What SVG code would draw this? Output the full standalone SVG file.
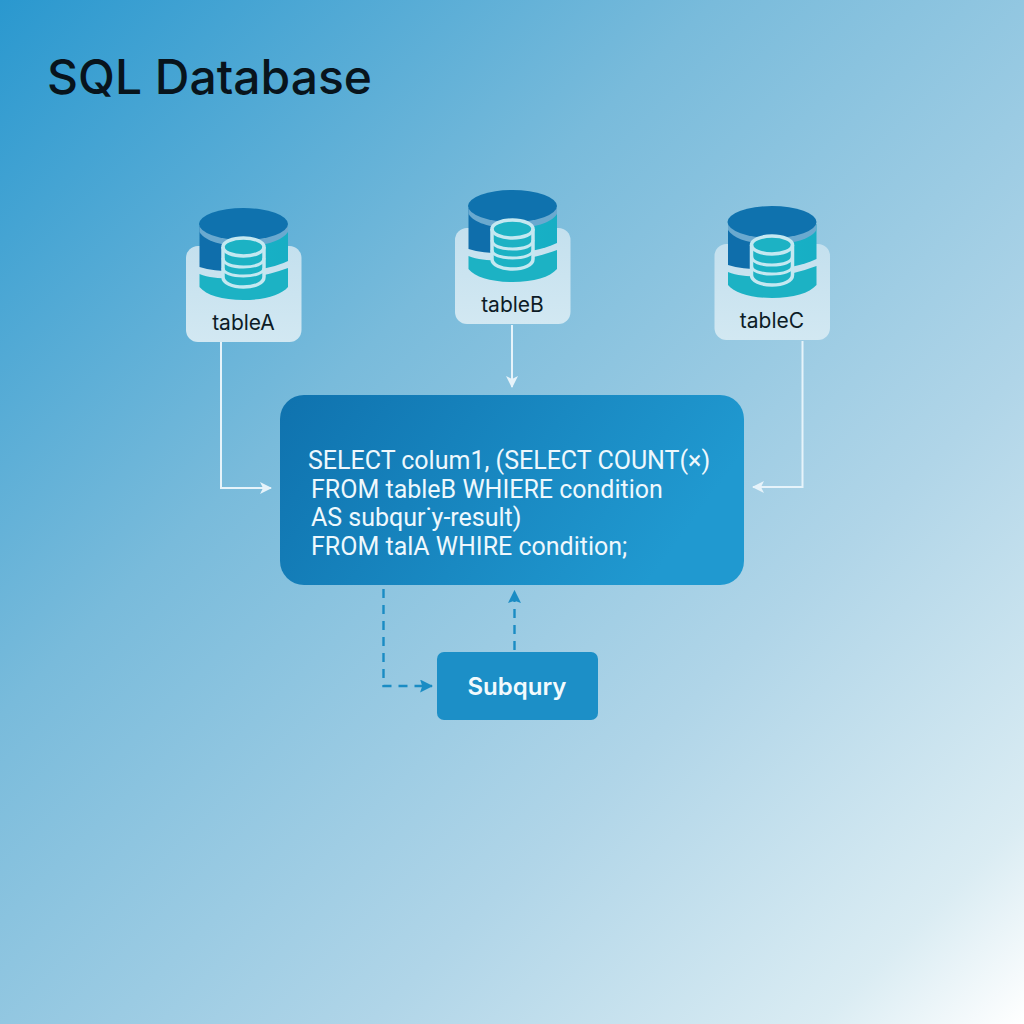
<svg xmlns="http://www.w3.org/2000/svg" width="1024" height="1024" viewBox="0 0 1024 1024">
<style>
.lbl{font-family:"Inter","Liberation Sans",sans-serif;font-size:21px;fill:#0d1c26;text-anchor:middle}
.code{font-family:"Roboto","Liberation Sans",sans-serif;font-size:25px;fill:#eef8fd}
.w{fill:none;stroke:#e6f3fa;stroke-width:2}
.d{fill:none;stroke:#1a8cc4;stroke-width:2.4;stroke-dasharray:9 7}
.ic{fill:none;stroke:#c4e8f1;stroke-width:3.5}
</style>
<defs>
<linearGradient id="bg" x1="0" y1="0" x2="1" y2="1">
<stop offset="0" stop-color="#2a98cf"/><stop offset=".35" stop-color="#79bbdb"/><stop offset=".68" stop-color="#b0d5e8"/><stop offset=".9" stop-color="#daecf3"/><stop offset="1" stop-color="#ffffff"/>
</linearGradient>
<linearGradient id="main" x1="0" y1="0" x2="1" y2=".3">
<stop offset="0" stop-color="#0f72ae"/><stop offset="1" stop-color="#2099d0"/>
</linearGradient>
<linearGradient id="card" x1="0" y1="0" x2="0" y2="1">
<stop offset="0" stop-color="#c4e0ee"/><stop offset="1" stop-color="#d2e8f2"/>
</linearGradient>
<linearGradient id="up" x1="0" y1="0" x2="1" y2="0">
<stop offset="0" stop-color="#0f6eab"/><stop offset=".45" stop-color="#0f6eab"/><stop offset=".55" stop-color="#17b2c6"/><stop offset="1" stop-color="#17aec4"/>
</linearGradient>
<marker id="aw" viewBox="0 0 12 12" refX="11" refY="6" markerWidth="12" markerHeight="12" markerUnits="userSpaceOnUse" orient="auto"><path d="M0 0L12 6L0 12L3 6Z" fill="#e6f3fa"/></marker>
<marker id="ab" viewBox="0 0 12 12" refX="11" refY="6" markerWidth="13" markerHeight="13" markerUnits="userSpaceOnUse" orient="auto"><path d="M0 0L12 6L0 12L2 6Z" fill="#1a8cc4"/></marker>
<g id="db">
<rect x="186" y="246" width="115.500" height="96" rx="12" fill="url(#card)"/>
<path d="M199.500 274V287C206 295 222 300 243.500 300S281 295 288 287V268C272 274 258 277 243.500 278S212 279 199.500 274Z" fill="#1cb2c4"/>
<path d="M199.500 226V267C212 271 228 272 243.500 271S272 268 288 261V226Z" fill="url(#up)"/>
<path d="M199.500 226V232C205 241 222 246 243.500 246S282 241 288 232V226Z" fill="#6aa9cf"/>
<ellipse cx="243.500" cy="224" rx="44.500" ry="16" fill="#0f72ae"/>
<path d="M223 247V277C223 283 232 287 243.500 287S264 283 264 277V247" fill="#1cb2c4"/>
<ellipse cx="243.500" cy="247" rx="20.500" ry="9" fill="#1cb2c4"/>
<path class="ic" d="M223 247V277C223 283 232 287 243.500 287S264 283 264 277V247"/>
<ellipse class="ic" cx="243.500" cy="247" rx="20.500" ry="9"/>
<path class="ic" d="M223 258C223 264 232 267 243.500 267S264 264 264 258M223 268C223 273 232 276 243.500 276S264 273 264 268" style="stroke-width:3"/>
</g>
</defs>
<rect id="background" width="1024" height="1024" fill="url(#bg)"/>
<text id="title" x="47" y="94" font-family="Inter,'Liberation Sans',sans-serif" font-size="48" font-weight="500" fill="#08141c">SQL Database</text>
<g id="connectors">
<path class="w" d="M221 342V488H271" marker-end="url(#aw)"/>
<path class="w" d="M512 325V387" marker-end="url(#aw)"/>
<path class="w" d="M802.500 341V487H753" marker-end="url(#aw)"/>
<path class="d" d="M383.500 589V686H432" marker-end="url(#ab)"/>
<path class="d" d="M514.500 650V591" marker-end="url(#ab)"/>
</g>
<g id="tableA"><use href="#db"/><text class="lbl" x="243.500" y="330">tableA</text></g>
<g id="tableB"><use href="#db" x="269" y="-18"/><text class="lbl" x="512.500" y="312">tableB</text></g>
<g id="tableC"><use href="#db" x="528.500" y="-2"/><text class="lbl" x="772" y="328">tableC</text></g>
<g id="query">
<rect x="280" y="395" width="464" height="190" rx="24" fill="url(#main)"/>
<text class="code" x="308" y="469">SELECT colum1, (SELECT COUNT(×)</text>
<text class="code" x="311" y="498">FROM tableB WHIERE condition</text>
<text class="code" x="311" y="526">AS subqur˙y-result)</text>
<text class="code" x="311" y="555">FROM talA WHIRE condition;</text>
</g>
<g id="subquery">
<rect x="437" y="652" width="161" height="68" rx="7" fill="#1c8fc7"/>
<text x="517" y="695" text-anchor="middle" font-family="Inter,'Liberation Sans',sans-serif" font-weight="600" font-size="24" fill="#f2fafd">Subqury</text>
</g>
</svg>
